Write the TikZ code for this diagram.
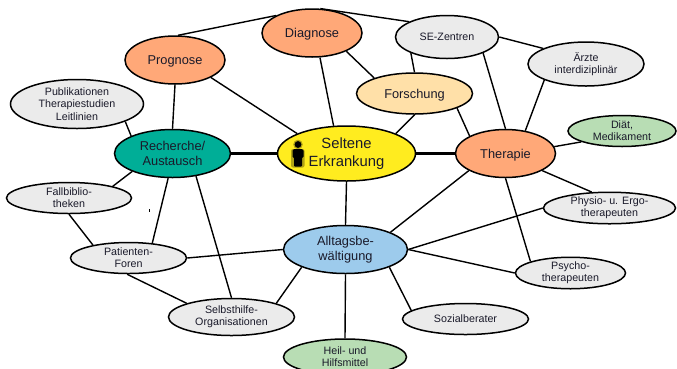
\documentclass[tikz,border=0pt]{standalone}
\usepackage{fontspec}
\setmainfont{Liberation Sans}
\usetikzlibrary{shapes.geometric,backgrounds,calc}
\definecolor{grayfill}{HTML}{EBEBEB}
\definecolor{orangefill}{HTML}{FFA878}
\definecolor{creamfill}{HTML}{FFE0A8}
\definecolor{yellowfill}{HTML}{FFEC1F}
\definecolor{tealfill}{HTML}{00AE97}
\definecolor{bluefill}{HTML}{9DCBEC}
\definecolor{greenfill}{HTML}{B8DDB4}
\definecolor{inktext}{HTML}{1A1A2A}
\tikzset{
  bub/.style={ellipse,draw=black,line width=1.5pt,inner sep=0pt,align=center,text=inktext},
  big/.style={bub,font=\fontsize{14.8}{17.5}\selectfont},
  mid/.style={bub,font=\fontsize{12.8}{15}\selectfont},
  single/.style={mid,text depth=0pt},
  small/.style={bub,fill=grayfill,font=\fontsize{10.7}{12.3}\selectfont},
  link/.style={line width=1.4pt,black},
  thicklink/.style={line width=3pt,black}
}
\begin{document}
\begin{tikzpicture}[x=1pt,y=-1pt]
\useasboundingbox (0,0) rectangle (677,368);
\clip (0,0) rectangle (677,368);
\node[single,fill=orangefill,minimum width=100pt,minimum height=48pt] (prog) at (175,60) {Prognose};
\node[single,fill=orangefill,minimum width=100pt,minimum height=48pt] (diag) at (312,33) {Diagnose};
\node[small,minimum width=103pt,minimum height=43pt] (se) at (447,37) {SE-Zentren};
\node[small,minimum width=116pt,minimum height=44pt] (arzt) at (586,64) {Ärzte\\interdiziplinär};
\node[single,fill=creamfill,minimum width=116pt,minimum height=41pt] (forsch) at (414.5,93.5) {Forschung};
\node[small,minimum width=133pt,minimum height=49pt] (publ) at (77,104) {Publikationen\\Therapiestudien\\Leitlinien};
\node[mid,fill=tealfill,minimum width=116pt,minimum height=48pt] (rech) at (172.5,153.5) {Recherche/\\Austausch};
\node[big,fill=yellowfill,minimum width=138pt,minimum height=55pt] (selt) at (346.5,153.5) {Seltene\\Erkrankung};
\node[single,fill=orangefill,minimum width=100pt,minimum height=48pt] (ther) at (505.5,153.5) {Therapie};
\node[small,fill=greenfill,minimum width=108pt,minimum height=31pt] (diat) at (622,131) {Diät,\\Medikament};
\node[small,minimum width=125pt,minimum height=31pt] (fall) at (69,198) {Fallbiblio-\\theken};
\node[small,minimum width=116pt,minimum height=31pt] (pat) at (128.5,258) {Patienten-\\Foren};
\node[mid,fill=bluefill,minimum width=124pt,minimum height=48pt] (allt) at (345.5,249.5) {Alltagsbe-\\wältigung};
\node[small,minimum width=132pt,minimum height=31pt] (phys) at (609.5,208) {Physio- u. Ergo-\\therapeuten};
\node[small,minimum width=110pt,minimum height=31pt] (psy) at (570.5,273) {Psycho-\\therapeuten};
\node[small,minimum width=126pt,minimum height=37pt] (selb) at (231.5,317) {Selbsthilfe-\\Organisationen};
\node[small,minimum width=126pt,minimum height=31pt] (soz) at (465.5,319) {Sozialberater};
\node[small,fill=greenfill,minimum width=123pt,minimum height=36pt] (heil) at (345,357) {Heil- und\\Hilfsmittel};
\begin{scope}[on background layer]
\draw[link] (prog.83)--(diag.154);
\draw[link] (diag.71)--(se.158);
\draw[link] (diag.-28)--(forsch.159.5);
\draw[link] (se.0)--(arzt.160);
\draw[link] (se.-24)--(ther.90);
\draw[link] (se.204)--(forsch.90);
\draw[link] (arzt.201)--(ther.49);
\draw[link] (forsch.-19)--(ther.154);
\draw[link] (forsch.-90)--(selt.22);
\draw[link] (diag.-72)--(selt.115);
\draw[link] (prog.-26)--(selt.158);
\draw[link] (prog.-90)--(rech.90);
\draw[link] (publ.-20.5)--(rech.157);
\draw[thicklink] (rech.east)--(selt.west);
\draw[thicklink] (selt.east)--(ther.west);
\draw[link] (ther.8.6)--(diat.195);
\draw[link] (rech.204)--(fall.15);
\draw[link] (rech.260)--(pat.32.5);
\draw[link] (rech.-44)--(selb.90);
\draw[link] (fall.-90)--(pat.160);
\draw[link] (pat.0)--(allt.180);
\draw[link] (pat.-95)--(selb.163);
\draw[link] (selb.17)--(allt.202.6);
\draw[link] (selt.south)--(allt.north);
\draw[link] (ther.205.6)--(allt.21.5);
\draw[link] (ther.-25.6)--(phys.138);
\draw[link] (ther.-90)--(psy.164);
\draw[link] (allt.0)--(phys.180);
\draw[link] (allt.0)--(psy.180);
\draw[link] (allt.-22.6)--(soz.195);
\draw[link] (allt.south)--(heil.north);
\end{scope}
% person icon
\fill[black,opacity=.3,rounded corners=2pt] (291,149) rectangle (304.5,167.5);
\fill[black,opacity=.3] (298,144.5) circle (4.8pt);
\fill[black] (298,144.5) circle (3.4pt);
\fill[black,rounded corners=1.5pt] (292.5,149) rectangle (303.5,158);
\fill[black,rounded corners=1pt] (294,156) rectangle (302,166.5);
% stray mark
\fill[black] (149,209) rectangle (150,212);
\end{tikzpicture}
\end{document}
